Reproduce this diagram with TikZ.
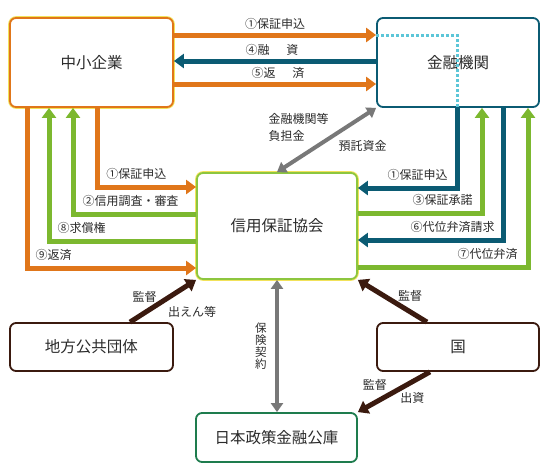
\documentclass[tikz,border=0pt]{standalone}
\usepackage{fontspec}
\setmainfont{Noto Sans CJK JP}
\usetikzlibrary{arrows.meta,positioning}
\definecolor{palOrange}{HTML}{E0761A}
\definecolor{palTeal}{HTML}{0B5B73}
\definecolor{palGreen}{HTML}{7CB82F}
\definecolor{palLime}{HTML}{8DC63F}
\definecolor{palBrown}{HTML}{3B1A0F}
\definecolor{palForest}{HTML}{1E7C4E}
\definecolor{palSky}{HTML}{5CC6D8}
\definecolor{palHalo}{HTML}{F2E25A}
\definecolor{palInk}{HTML}{2B2B2B}

\begin{document}
\begin{tikzpicture}[x=1pt, y=-1pt,
  font=\fontsize{12}{13}\selectfont,
  box/.style={draw, rounded corners=6pt, line width=1.8pt, fill=white, inner sep=0pt, align=center, text=palInk, font=\fontsize{15.5}{18}\selectfont},
  halo/.style={preaction={draw=palHalo, line width=3.6pt, rounded corners=6pt}},
  smebox/.style={box, halo, draw=palOrange, minimum width=163pt, minimum height=89pt},
  bankbox/.style={box, draw=palTeal, minimum width=162pt, minimum height=89pt},
  cgcbox/.style={box, halo, draw=palLime, minimum width=160pt, minimum height=106pt},
  govbox/.style={box, draw=palBrown, minimum width=163pt, minimum height=48pt},
  jfcbox/.style={box, draw=palForest, minimum width=161pt, minimum height=49pt},
  flow/.style={line width=5pt, -{Triangle[width=14pt,length=10pt]}},
  oarrow/.style={flow, draw=palOrange, color=palOrange},
  tarrow/.style={flow, draw=palTeal, color=palTeal},
  garrow/.style={flow, draw=palGreen, color=palGreen},
  brarrow/.style={flow, draw=palBrown, color=palBrown},
  grayarrow/.style={line width=4pt, draw=black!53, color=black!53, {Triangle[width=12pt,length=9pt]}-{Triangle[width=12pt,length=9pt]}},
  dotline/.style={draw=palSky, line width=3pt, dash pattern=on 3pt off 2pt},
  lbl/.style={inner sep=0pt, text=palInk},
]
\useasboundingbox (0,0) rectangle (550,474);

% boxes
\node[smebox] (sme) at (91.5,62.5) {中小企業};
\node[bankbox] (bank) at (458,62.5) {金融機関};
\node[cgcbox] (cgc) at (277,226) {信用保証協会};
\node[govbox] (local) at (91.5,347) {地方公共団体};
\node[govbox, minimum width=162pt] (kuni) at (458,347) {国};
\node[jfcbox] (jfc) at (276.5,437.5) {日本政策金融公庫};

\draw[dotline] ([yshift=27.5pt]bank.west) -| ([xshift=-1pt]bank.south);

% sme <-> bank
\draw[oarrow] ([yshift=27.5pt]sme.east) -- ([yshift=27.5pt]bank.west)
  node[lbl, midway, above=3pt] {①保証申込};
\draw[tarrow] ([yshift=1.5pt]bank.west) -- ([yshift=1.5pt]sme.east)
  node[lbl, midway, above=3pt, xshift=-3pt] {④融\hspace{1.4em}資};
\draw[oarrow] ([yshift=-21.5pt]sme.east) -- ([yshift=-21.5pt]bank.west)
  node[lbl, midway, above=3pt, xshift=3pt] {⑤返\hspace{1.4em}済};

% sme <-> cgc
\draw[oarrow] ([xshift=5.5pt]sme.south) |- ([yshift=39pt]cgc.west)
  node[lbl, pos=0.5, above right=4.5pt and 7pt] {①保証申込};
\draw[garrow] ([yshift=12pt]cgc.west) -| ([xshift=-18.5pt]sme.south)
  node[lbl, pos=0.5, above right=4.5pt and 7pt] {②信用調査・審査};
\draw[garrow] ([yshift=-15pt]cgc.west) -| ([xshift=-42.5pt]sme.south)
  node[lbl, pos=0.5, above right=4.5pt and 6pt] {⑧求償権};
\draw[oarrow] ([xshift=-64.5pt]sme.south) |- ([yshift=-42pt]cgc.west)
  node[lbl, pos=0.5, above right=4.5pt and 6pt] {⑨返済};

% bank <-> cgc
\draw[tarrow] ([xshift=-1pt]bank.south) |- ([yshift=38pt]cgc.east)
  node[lbl, pos=0.5, above left=4.5pt and 7pt] {①保証申込};
\draw[garrow] ([yshift=13pt]cgc.east) -| ([xshift=24pt]bank.south)
  node[lbl, pos=0.5, above left=4.5pt and 7pt] {③保証承諾};
\draw[tarrow] ([xshift=45pt]bank.south) |- ([yshift=-14pt]cgc.east)
  node[lbl, pos=0.5, above left=4.5pt and 6pt] {⑥代位弁済請求};
\draw[garrow] ([yshift=-41pt]cgc.east) -| ([xshift=70pt]bank.south)
  node[lbl, pos=0.5, above left=4.5pt and 8pt] {⑦代位弁済};

\draw[grayarrow] (bank.south west) -- (cgc.north)
  node[lbl, pos=0.5, anchor=south east, align=left, font=\fontsize{12}{16.5}\selectfont, xshift=4pt, yshift=-3.5pt] {金融機関等\\負担金}
  node[lbl, pos=0.5, anchor=north west, xshift=10pt, yshift=1.5pt] {預託資金};

% cgc <-> jfc
\draw[grayarrow] (cgc.south) -- (cgc.south |- jfc.north)
  node[lbl, midway, left=8.5pt, align=center, font=\fontsize{11.5}{12}\selectfont] {保\\険\\契\\約};

% supervision
\draw[brarrow] ([xshift=38.5pt]local.north) -- (cgc.south west)
  node[lbl, midway, xshift=-18.5pt, yshift=4.5pt] {監督}
  node[lbl, midway, xshift=29pt, yshift=-10.5pt] {出えん等};
\draw[brarrow] ([xshift=-31pt]kuni.north) -- (cgc.south east)
  node[lbl, midway, xshift=17.7pt, yshift=5.5pt] {監督};
\draw[brarrow] ([xshift=-28pt]kuni.south) -- (jfc.north east)
  node[lbl, midway, xshift=-19pt, yshift=7pt] {監督}
  node[lbl, midway, xshift=18.5pt, yshift=-6pt] {出資};
\end{tikzpicture}
\end{document}
